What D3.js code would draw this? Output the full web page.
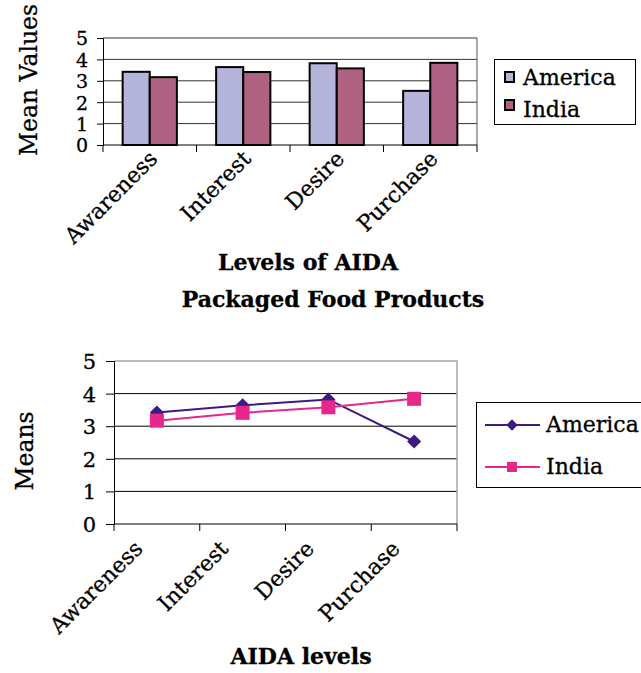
<!DOCTYPE html>
<html>
<head>
<meta charset="utf-8">
<script src="https://cdn.jsdelivr.net/npm/d3@7"></script>
<style>
  html, body { margin: 0; padding: 0; background: #fff; }
  svg { display: block; }
  text { font-family: "DejaVu Serif", serif; fill: #000; stroke: #000; stroke-width: 0.3px; }
</style>
</head>
<body>
<svg id="chart" width="641" height="673"></svg>
<script>
// AIDA levels and mean scores for packaged food products
const categories = ["Awareness", "Interest", "Desire", "Purchase"];
const seriesNames = ["America", "India"];
const americaValues = [3.42, 3.64, 3.82, 2.53];
const indiaValues = [3.17, 3.41, 3.58, 3.84];
const yTicks = [0, 1, 2, 3, 4, 5];

const series = [
  { name: seriesNames[0], values: americaValues },
  { name: seriesNames[1], values: indiaValues }
];

const svg = d3.select("#chart");

// ---------- Clustered column chart ----------
const barColors = { America: "#b5b5db", India: "#b06282" };
const colBox = { left: 103, right: 477, top: 38, bottom: 145 };

const x0 = d3.scaleBand().domain(categories).range([colBox.left, colBox.right]).padding(0);
const x1 = d3.scaleBand().domain(seriesNames)
  .range([x0.bandwidth() * 0.21, x0.bandwidth() * 0.79]).padding(0);
const yCol = d3.scaleLinear().domain([0, 5]).range([colBox.bottom, colBox.top]);

const g1 = svg.append("g");

// gridlines
g1.append("g").selectAll("line").data(yTicks.filter(d => d > 0)).join("line")
  .attr("x1", colBox.left).attr("x2", colBox.right)
  .attr("y1", d => yCol(d)).attr("y2", d => yCol(d))
  .attr("stroke", "#333").attr("stroke-width", 1);
// right border
g1.append("line").attr("x1", colBox.right).attr("x2", colBox.right)
  .attr("y1", colBox.top).attr("y2", colBox.bottom).attr("stroke", "#555");

// bars
g1.append("g").selectAll("g").data(categories).join("g")
  .attr("transform", d => `translate(${x0(d)},0)`)
  .selectAll("rect")
  .data((c, i) => series.map(s => ({ name: s.name, value: s.values[i] })))
  .join("rect")
  .attr("x", d => x1(d.name))
  .attr("y", d => yCol(d.value))
  .attr("width", x1.bandwidth())
  .attr("height", d => yCol(0) - yCol(d.value))
  .attr("fill", d => barColors[d.name])
  .attr("stroke", "#000").attr("stroke-width", 2);

// y axis
const yAxisCol = g1.append("g").attr("transform", `translate(${colBox.left},0)`)
  .call(d3.axisLeft(yCol).tickValues(yTicks).tickSize(6).tickPadding(9).tickFormat(d3.format("d")));
yAxisCol.select(".domain").attr("stroke", "#000");
yAxisCol.selectAll(".tick line").attr("stroke", "#000");
yAxisCol.selectAll("text").attr("font-size", 19).attr("font-family", "DejaVu Serif").attr("dy", "0.36em");

// x axis baseline and boundary ticks
g1.append("line").attr("x1", colBox.left).attr("x2", colBox.right)
  .attr("y1", colBox.bottom).attr("y2", colBox.bottom).attr("stroke", "#000");
const bounds1 = categories.map(c => x0(c)).concat([colBox.right]);
g1.append("g").selectAll("line").data(bounds1).join("line")
  .attr("x1", d => d).attr("x2", d => d)
  .attr("y1", colBox.bottom).attr("y2", colBox.bottom + 7).attr("stroke", "#000");

// category labels
g1.append("g").selectAll("text").data(categories).join("text")
  .attr("transform", d => `translate(${x0(d) + x0.bandwidth() / 2 + 9},${colBox.bottom + 15}) rotate(-45)`)
  .attr("text-anchor", "end").attr("font-size", 22).text(d => d);

// titles
svg.append("text").attr("transform", "translate(37,80) rotate(-90)")
  .attr("text-anchor", "middle").attr("font-size", 23.5).text("Mean Values");
svg.append("text").attr("x", 308).attr("y", 270).attr("text-anchor", "middle")
  .attr("font-size", 22).attr("font-weight", "bold").text("Levels of AIDA");
svg.append("text").attr("x", 333).attr("y", 307).attr("text-anchor", "middle")
  .attr("font-size", 22).attr("font-weight", "bold").text("Packaged Food Products");

// legend
const leg1 = svg.append("g");
leg1.append("rect").attr("x", 494.5).attr("y", 59.5).attr("width", 141).attr("height", 65)
  .attr("fill", "#fff").attr("stroke", "#000").attr("stroke-width", 1);
seriesNames.forEach((name, i) => {
  leg1.append("rect").attr("x", 505).attr("y", 72 + i * 28).attr("width", 9).attr("height", 10)
    .attr("fill", barColors[name]).attr("stroke", "#000").attr("stroke-width", 2);
  leg1.append("text").attr("x", 523).attr("y", 85 + i * 32).attr("font-size", 22).text(name);
});

// ---------- Line chart ----------
const lineColors = { America: "#3d1a80", India: "#e5288a" };
const lineBox = { left: 114, right: 457, top: 361, bottom: 524 };

const xb = d3.scaleBand().domain(categories).range([lineBox.left, lineBox.right]).padding(0);
const yLine = d3.scaleLinear().domain([0, 5]).range([lineBox.bottom, lineBox.top]);
const cx = c => xb(c) + xb.bandwidth() / 2;

const g2 = svg.append("g");

// gridlines
g2.append("g").selectAll("line").data(yTicks.filter(d => d > 0 && d < 5)).join("line")
  .attr("x1", lineBox.left).attr("x2", lineBox.right)
  .attr("y1", d => yLine(d)).attr("y2", d => yLine(d))
  .attr("stroke", "#000").attr("stroke-width", 1);
// top and right border in grey
g2.append("path")
  .attr("d", `M${lineBox.left},${lineBox.top}H${lineBox.right}V${lineBox.bottom}`)
  .attr("fill", "none").attr("stroke", "#a6a6a6").attr("stroke-width", 1.5);

// y axis
const yAxisLine = g2.append("g").attr("transform", `translate(${lineBox.left},0)`)
  .call(d3.axisLeft(yLine).tickValues(yTicks).tickSize(8).tickPadding(10).tickFormat(d3.format("d")));
yAxisLine.select(".domain").attr("stroke", "#000");
yAxisLine.selectAll(".tick line").attr("stroke", "#000");
yAxisLine.selectAll("text").attr("font-size", 21).attr("font-family", "DejaVu Serif").attr("dy", "0.36em");

// x axis
g2.append("line").attr("x1", lineBox.left).attr("x2", lineBox.right)
  .attr("y1", lineBox.bottom).attr("y2", lineBox.bottom).attr("stroke", "#000");
const bounds2 = categories.map(c => xb(c)).concat([lineBox.right]);
g2.append("g").selectAll("line").data(bounds2).join("line")
  .attr("x1", d => d).attr("x2", d => d)
  .attr("y1", lineBox.bottom).attr("y2", lineBox.bottom + 7).attr("stroke", "#000");

g2.append("g").selectAll("text").data(categories).join("text")
  .attr("transform", d => `translate(${cx(d) - 13},${lineBox.bottom + 26}) rotate(-45)`)
  .attr("text-anchor", "end").attr("font-size", 22).text(d => d);

// lines
const line = d3.line().x((v, i) => cx(categories[i])).y(v => yLine(v));
series.forEach(s => {
  g2.append("path").datum(s.values).attr("d", line)
    .attr("fill", "none").attr("stroke", lineColors[s.name]).attr("stroke-width", 2);
});
// markers: diamonds for America, squares for India
g2.append("g").selectAll("path").data(americaValues).join("path")
  .attr("transform", (v, i) => `translate(${cx(categories[i])},${yLine(v)}) rotate(45)`)
  .attr("d", d3.symbol().type(d3.symbolSquare).size(100))
  .attr("fill", lineColors.America);
g2.append("g").selectAll("rect").data(indiaValues).join("rect")
  .attr("x", (v, i) => cx(categories[i]) - 7).attr("y", v => yLine(v) - 7)
  .attr("width", 14).attr("height", 14).attr("fill", lineColors.India);

// titles
svg.append("text").attr("transform", "translate(33,451) rotate(-90)")
  .attr("text-anchor", "middle").attr("font-size", 23.5).text("Means");
svg.append("text").attr("x", 301).attr("y", 664).attr("text-anchor", "middle")
  .attr("font-size", 22).attr("font-weight", "bold").text("AIDA levels");

// legend
const leg2 = svg.append("g");
leg2.append("rect").attr("x", 476.5).attr("y", 402.5).attr("width", 180).attr("height", 85)
  .attr("fill", "#fff").attr("stroke", "#000").attr("stroke-width", 1);
seriesNames.forEach((name, i) => {
  const ly = 425 + i * 42;
  leg2.append("line").attr("x1", 485).attr("x2", 540).attr("y1", ly).attr("y2", ly)
    .attr("stroke", lineColors[name]).attr("stroke-width", 2);
  if (name === "America") {
    leg2.append("path").attr("transform", `translate(512,${ly}) rotate(45)`)
      .attr("d", d3.symbol().type(d3.symbolSquare).size(64)).attr("fill", lineColors[name]);
  } else {
    leg2.append("rect").attr("x", 507).attr("y", ly - 5).attr("width", 10).attr("height", 10)
      .attr("fill", lineColors[name]);
  }
  leg2.append("text").attr("x", 546).attr("y", ly + 7).attr("font-size", 22).text(name);
});
</script>
</body>
</html>
